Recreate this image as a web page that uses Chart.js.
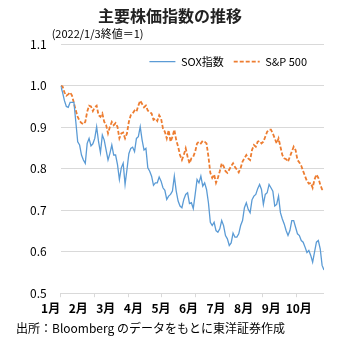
<!DOCTYPE html>
<html><head><meta charset="utf-8">
<script src="https://cdn.jsdelivr.net/npm/chart.js@4/dist/chart.umd.min.js"></script>
<style>html,body{margin:0;padding:0;background:#fff}#wrap{width:340px;height:340px}</style>
</head><body><div id="wrap"><canvas id="c" width="340" height="340"></canvas></div>
<script>
const titleText = '主要株価指数の推移';
const noteText = '(2022/1/3終値＝1)';
const sourceText = '出所：Bloomberg のデータをもとに東洋証券作成';
const monthLabels = ['1月','2月','3月','4月','5月','6月','7月','8月','9月','10月'];
const seriesNames = ['SOX指数','S&P 500'];
const yTickMin = 0.5, yTickMax = 1.1, yTickStep = 0.1;

const sox = [
1.000,0.984,0.964,0.950,0.948,0.960,0.960,0.960,0.913,0.865,
0.857,0.833,0.821,0.813,0.861,0.873,0.855,0.860,0.873,0.901,
0.865,0.839,0.881,0.869,0.845,0.821,0.837,0.857,0.833,0.833,
0.810,0.774,0.802,0.813,0.762,0.798,0.836,0.849,0.852,0.841,
0.873,0.877,0.901,0.869,0.845,0.849,0.802,0.794,0.782,0.760,
0.766,0.766,0.780,0.770,0.754,0.748,0.726,0.734,0.738,0.746,
0.782,0.746,0.722,0.710,0.706,0.726,0.738,0.742,0.716,0.718,
0.704,0.738,0.774,0.766,0.782,0.758,0.766,0.750,0.718,0.671,
0.663,0.671,0.651,0.647,0.655,0.675,0.663,0.639,0.631,0.615,
0.621,0.645,0.635,0.635,0.643,0.663,0.675,0.706,0.718,0.702,
0.694,0.725,0.734,0.738,0.752,0.762,0.750,0.714,0.738,0.742,
0.762,0.754,0.746,0.710,0.714,0.734,0.694,0.679,0.667,0.651,
0.639,0.651,0.675,0.675,0.659,0.643,0.639,0.627,0.623,0.611,
0.598,0.603,0.591,0.575,0.599,0.623,0.627,0.607,0.567,0.556
];
const sp500 = [
1.000,0.998,0.984,0.976,0.979,0.984,0.976,0.958,0.940,0.925,
0.915,0.910,0.907,0.913,0.937,0.952,0.950,0.939,0.948,0.952,
0.929,0.925,0.933,0.913,0.905,0.885,0.901,0.913,0.905,0.910,
0.901,0.873,0.885,0.887,0.873,0.885,0.913,0.929,0.933,0.940,
0.937,0.952,0.964,0.956,0.948,0.952,0.940,0.937,0.933,0.918,
0.921,0.915,0.929,0.921,0.897,0.889,0.873,0.893,0.865,0.877,
0.894,0.869,0.853,0.833,0.821,0.833,0.849,0.829,0.813,0.825,
0.829,0.841,0.861,0.865,0.861,0.867,0.865,0.861,0.829,0.790,
0.778,0.786,0.766,0.778,0.794,0.813,0.806,0.794,0.790,0.798,
0.806,0.813,0.804,0.798,0.791,0.802,0.817,0.825,0.833,0.825,
0.821,0.845,0.857,0.853,0.865,0.867,0.861,0.865,0.877,0.889,
0.894,0.894,0.885,0.873,0.861,0.873,0.853,0.833,0.825,0.823,
0.817,0.829,0.841,0.853,0.845,0.821,0.815,0.807,0.794,0.782,
0.770,0.764,0.766,0.754,0.774,0.786,0.778,0.762,0.750,0.746
];

const FONT = '"Noto Sans CJK JP", "Noto Sans", sans-serif';
Chart.defaults.font.family = FONT;
Chart.defaults.color = '#000';

const lastIdx = sox.length - 1;
const tickMarkStep = 17.8;   // spacing of axis tick marks (index units)
const labelStep = 14.55;     // spacing of month labels (index units)

const notePlugin = {
  id: 'note',
  afterDraw(chart) {
    const ctx = chart.ctx;
    ctx.save();
    ctx.font = '11px ' + FONT;
    ctx.fillStyle = '#000';
    ctx.textAlign = 'left';
    ctx.textBaseline = 'middle';
    ctx.fillText(noteText, chart.chartArea.left - 9, chart.chartArea.top - 10);
    ctx.restore();
  }
};

// place the (horizontal) legend inside the top-right of the plot area
const legendPlacer = {
  id: 'legendPlacer',
  afterLayout(chart) {
    const lg = chart.legend, ca = chart.chartArea;
    if (!lg) return;
    const h = 34;
    lg.top = ca.top + 2;
    lg.bottom = lg.top + h;
    lg.height = h;
    lg.left = ca.left;
    lg.right = ca.right - 7;
    lg.width = lg.right - lg.left;
  }
};

new Chart(document.getElementById('c'), {
  type: 'line',
  data: {
    datasets: [
      { label: seriesNames[0], data: sox.map((v, i) => ({x: i, y: v})),
        borderColor: '#5B9BD5', backgroundColor: '#5B9BD5', borderWidth: 1.3,
        pointRadius: 0, tension: 0, xAxisID: 'x', yAxisID: 'y' },
      { label: seriesNames[1], data: sp500.map((v, i) => ({x: i, y: v})),
        borderColor: '#ED7D31', backgroundColor: '#ED7D31', borderWidth: 1.8,
        borderDash: [4, 2], pointRadius: 0, tension: 0, xAxisID: 'x', yAxisID: 'y' }
    ]
  },
  options: {
    responsive: false,
    animation: false,
    devicePixelRatio: 1,
    layout: { padding: { left: 16, right: 16, top: 0, bottom: 0 } },
    scales: {
      x: { type: 'linear', min: 0, max: lastIdx, display: false },
      xt: { type: 'linear', position: 'bottom', min: 0, max: lastIdx, weight: 1,
        ticks: { display: false, stepSize: tickMarkStep, includeBounds: false },
        grid: { drawOnChartArea: false, drawTicks: true, tickLength: 4, color: '#d9d9d9' },
        border: { display: false } },
      xl: { type: 'linear', position: 'bottom', min: 0, max: lastIdx, weight: 2,
        ticks: { stepSize: labelStep, includeBounds: false, autoSkip: false, maxRotation: 0,
          labelOffset: -10, padding: 4, color: '#000', font: { size: 12, weight: 'bold' },
          callback: (v) => monthLabels[Math.round(v / labelStep)] ?? '' },
        grid: { display: false, drawTicks: false },
        border: { display: false } },
      y: { min: yTickMin, max: yTickMax,
        ticks: { stepSize: yTickStep, padding: 14, color: '#000', font: { size: 12 },
          callback: (v) => Number(v).toFixed(1) },
        grid: { color: '#d9d9d9', drawTicks: false },
        border: { display: false } }
    },
    plugins: {
      title: { display: true, text: titleText, color: '#222',
        font: { size: 16, weight: 'bold' }, padding: { top: 6, bottom: 18 } },
      subtitle: { display: true, text: sourceText, position: 'bottom', align: 'start',
        color: '#000', font: { size: 12 }, padding: { top: 2, bottom: 4 } },
      legend: { position: 'top', align: 'end', maxHeight: 1,
        labels: { boxWidth: 26, boxHeight: 0, color: '#000', font: { size: 11 }, padding: 10 } },
      tooltip: { enabled: false }
    }
  },
  plugins: [notePlugin, legendPlacer]
});
</script></body></html>
